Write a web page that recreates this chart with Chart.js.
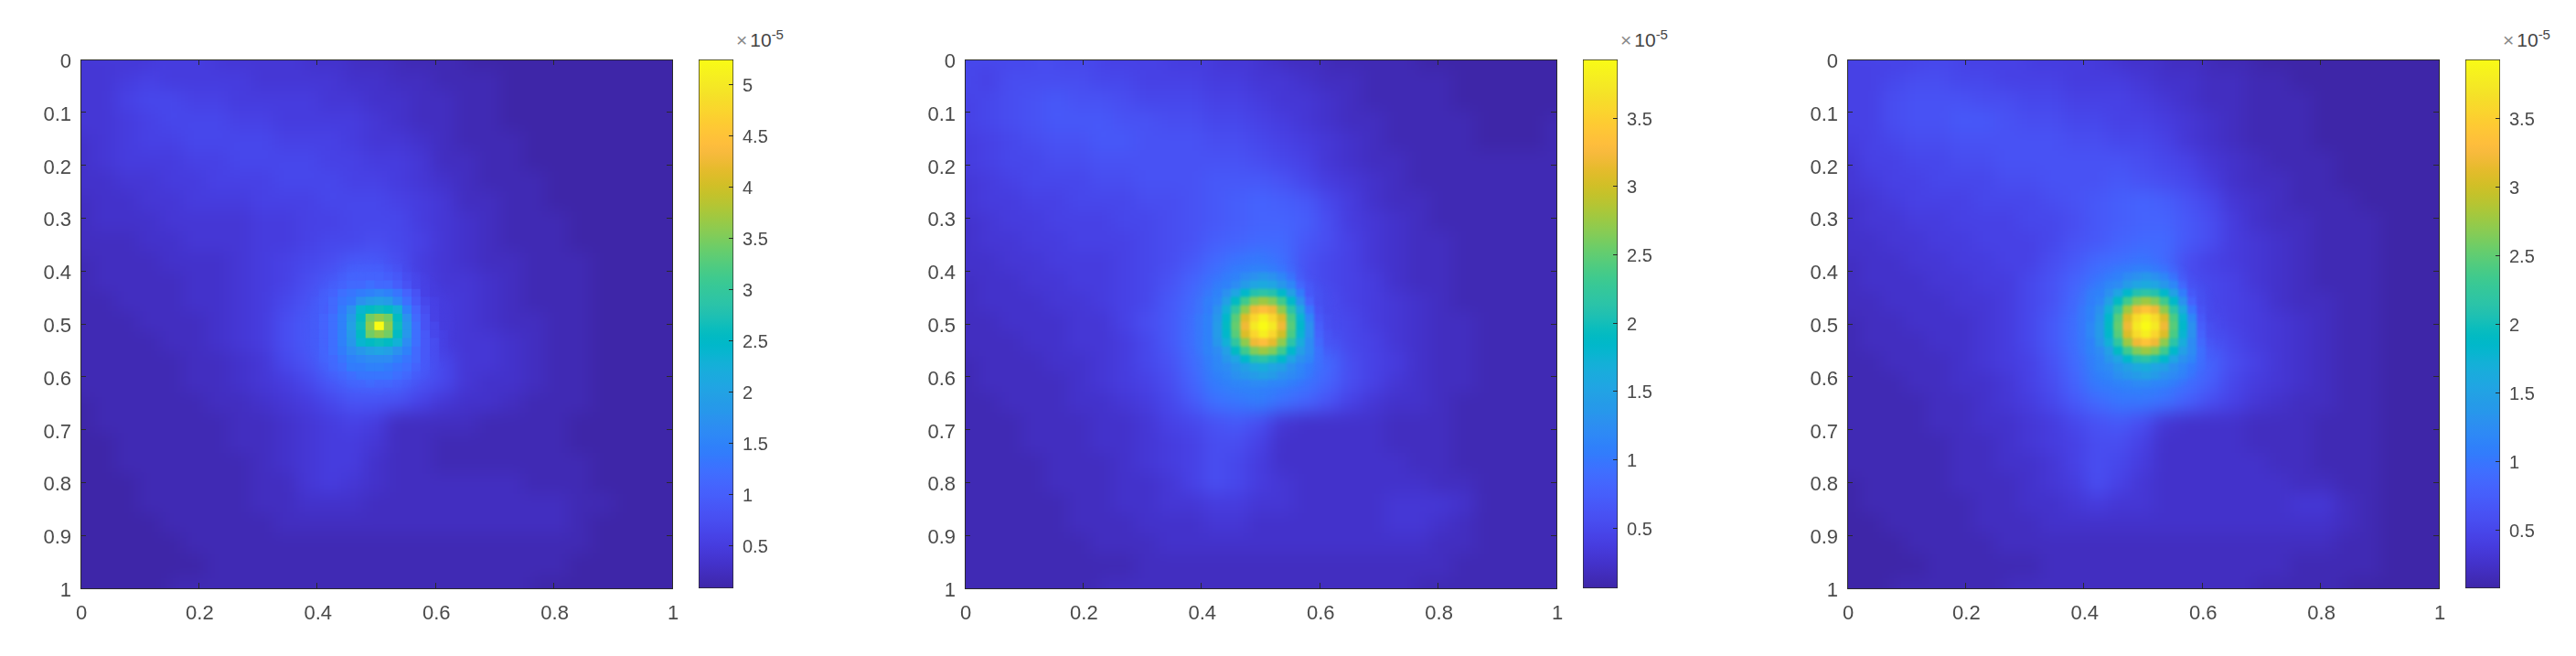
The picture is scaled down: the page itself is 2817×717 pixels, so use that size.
<!DOCTYPE html>
<html>
<head>
<meta charset="utf-8">
<title>Heat maps</title>
<script src="https://cdn.jsdelivr.net/npm/chart.js@4/dist/chart.umd.min.js"></script>
<style>
html, body { margin: 0; background: #fff; width: 2817px; height: 717px; overflow: hidden; }
canvas { position: absolute; }
.plot { position: absolute; overflow: hidden; }
.exp { position: absolute; font-family: "Liberation Sans", Arial, sans-serif; font-size: 21px; color: #444; white-space: nowrap; }
.exp i { font-style: normal; color: #888; font-size: 21px; margin-right: 3px; }
.exp sup { font-size: 15px; line-height: 0; position: relative; top: -1px; vertical-align: 7px; }
</style>
</head>
<body>
<script>
// tick values
const xTickValues = [0, 0.2, 0.4, 0.6, 0.8, 1];
const yTickValues = [0, 0.1, 0.2, 0.3, 0.4, 0.5, 0.6, 0.7, 0.8, 0.9, 1];
const barTicks1 = [0.5, 1, 1.5, 2, 2.5, 3, 3.5, 4, 4.5, 5];
const barTicks2 = [0.5, 1, 1.5, 2, 2.5, 3, 3.5];
const barRange1 = [0.08, 5.25];
const barRange2 = [0.06, 3.93];
const barRange3 = [0.08, 3.93];
const exponentLabel = '10';
const exponentPower = '-5';

// grid centres, coarse field and fine block round the peak
const backCentres = [0.02,0.06,0.10,0.14,0.18,0.22,0.26,0.30,0.34,0.38,0.42,0.46,0.50,0.54,0.58,0.62,0.66,0.70,0.74,0.78,0.82,0.86,0.90,0.94,0.98];
const coreCentres = [0.380,0.396,0.411,0.427,0.443,0.458,0.474,0.490,0.505,0.521,0.536,0.552,0.568,0.583,0.599,0.615,0.630];

// values, in units of 1e-7
const back1 = [
[42,54,58,56,54,52,50,48,46,44,41,38,35,31,27,23,20,17,15,14,13,13,13,13,13],
[48,58,66,66,64,60,56,54,52,50,47,44,40,36,30,26,22,18,16,15,14,13,13,13,13],
[48,56,64,70,70,68,63,59,56,54,52,49,44,38,32,27,22,18,16,15,14,14,13,13,13],
[46,52,58,64,67,70,68,65,62,59,57,54,48,42,35,29,23,19,17,15,14,14,13,13,13],
[44,49,53,56,60,63,65,67,67,66,64,61,55,49,41,32,25,21,18,16,15,14,13,13,14],
[40,44,48,51,55,58,60,63,66,67,66,64,60,54,45,36,28,23,20,17,15,14,14,14,14],
[37,40,44,47,49,52,55,58,61,64,66,68,67,61,52,41,32,26,22,18,16,15,15,14,14],
[34,37,39,42,44,46,48,51,54,58,63,67,70,66,56,45,35,28,23,19,17,16,15,14,14],
[30,32,35,38,41,43,46,49,52,58,66,72,76,72,60,48,38,30,24,20,18,16,15,15,14],
[27,29,32,34,37,40,44,50,58,68,80,90,95,80,55,47,40,32,26,21,18,17,16,15,14],
[25,27,30,32,35,39,44,52,64,78,95,115,120,90,58,48,42,34,28,22,19,17,15,14,14],
[23,25,27,30,33,37,44,54,70,85,120,170,200,140,64,50,44,37,30,24,20,18,16,14,14],
[22,24,26,28,31,36,44,56,76,90,140,260,500,260,70,52,46,40,32,26,22,18,16,14,14],
[20,22,24,26,29,34,42,54,76,90,130,200,250,190,90,56,48,42,34,27,22,18,16,14,13],
[19,20,22,24,27,31,38,48,66,85,115,130,135,130,100,70,48,44,36,28,22,19,16,14,13],
[18,19,20,22,25,29,34,42,54,72,92,105,110,105,85,66,44,40,34,28,22,18,16,14,13],
[17,18,19,21,23,25,28,33,42,56,72,82,84,76,62,48,38,33,28,24,20,17,15,14,13],
[17,18,19,20,22,24,26,31,38,46,56,60,54,30,27,26,25,24,23,21,18,16,15,14,13],
[16,17,18,20,21,23,25,29,36,44,54,54,44,27,25,24,24,23,22,20,18,16,15,14,13],
[16,17,18,19,21,22,24,28,34,44,54,50,38,27,25,24,24,24,23,21,19,17,15,14,13],
[15,16,17,19,20,22,24,27,32,42,52,46,36,28,26,25,25,25,25,24,22,18,15,14,13],
[15,16,17,18,20,21,23,25,29,34,38,36,31,28,27,26,26,27,28,30,30,24,17,14,13],
[14,15,16,18,19,20,22,24,26,27,28,28,27,26,26,26,26,27,28,28,26,22,16,14,13],
[14,14,15,16,18,19,20,22,23,24,24,24,24,24,24,24,24,24,24,23,21,18,15,14,13],
[14,14,14,15,16,17,18,19,20,20,21,21,21,21,21,21,20,20,20,19,18,16,14,13,13]
];
const backLower = [
[45,55,60,58,55,52,50,48,46,44,42,40,36,32,28,24,21,18,15,14,13,12,12,12,12],
[50,60,66,68,66,62,58,54,52,50,48,45,40,36,31,26,22,18,16,15,13,12,12,12,12],
[50,58,64,68,70,70,66,62,58,56,54,50,46,40,34,28,23,19,17,15,14,13,12,12,12],
[48,54,58,62,66,68,68,66,64,62,60,56,52,46,38,31,25,20,18,16,14,13,12,12,12],
[46,50,54,56,60,62,64,66,66,66,66,64,60,54,46,36,28,22,19,17,15,13,13,13,13],
[42,46,50,52,54,56,58,62,64,66,68,70,68,62,54,42,32,25,21,18,16,14,13,13,13],
[38,42,45,48,50,52,54,56,60,65,72,78,82,78,68,52,38,29,24,19,17,15,14,13,13],
[35,38,40,44,46,48,49,52,56,62,70,78,84,84,74,58,42,32,26,21,18,16,15,14,13],
[32,34,37,40,43,45,47,50,56,64,74,84,90,88,72,58,43,33,27,22,19,17,15,14,13],
[29,31,34,37,40,42,45,50,58,72,88,98,104,92,62,50,44,35,28,23,19,17,16,14,13],
[27,29,31,34,37,40,44,52,64,82,100,120,130,110,62,52,46,38,30,24,20,18,16,14,13],
[25,27,29,31,34,38,44,54,68,90,130,200,260,200,100,56,48,40,32,26,21,18,16,14,13],
[23,25,27,29,32,36,44,56,72,95,150,280,390,280,130,60,50,42,34,27,22,19,16,14,13],
[22,24,26,28,31,35,42,54,72,95,140,240,330,240,130,70,52,44,36,28,22,19,16,14,13],
[20,22,24,26,29,33,40,50,66,90,120,140,150,140,110,85,58,46,38,28,23,19,16,14,13],
[19,20,22,24,27,31,37,46,58,82,105,116,120,114,98,80,56,44,36,28,23,19,16,14,13],
[18,19,20,22,25,29,33,40,52,72,92,102,104,96,80,62,46,36,30,25,21,18,15,14,13],
[17,18,19,21,24,27,30,35,44,52,64,70,60,34,30,29,28,26,24,22,19,17,15,14,13],
[17,18,19,20,23,25,28,33,40,48,58,60,46,30,28,27,27,26,24,22,19,17,15,14,13],
[16,17,18,20,22,24,27,31,38,46,58,54,40,30,28,27,27,27,25,23,20,17,15,14,13],
[16,17,18,19,21,23,26,30,36,44,60,50,38,31,29,28,28,28,27,26,24,19,15,14,13],
[15,16,17,18,20,22,25,28,32,36,40,38,34,31,30,29,29,30,32,34,34,26,18,14,13],
[14,15,16,18,19,21,23,26,28,30,31,31,30,29,29,29,29,30,31,31,29,24,17,14,13],
[14,14,15,16,18,19,21,23,25,26,26,26,26,26,26,26,26,26,26,25,23,19,15,14,13],
[13,14,14,15,16,17,18,20,21,21,22,22,22,22,22,22,22,22,21,20,19,17,15,13,13]
];
const core1 = [
[70,74,78,82,86,90,92,92,90,86,78,68,60,54,50,47,45],
[72,78,83,88,92,97,100,100,98,92,82,70,62,56,51,48,46],
[74,82,90,96,102,106,110,112,108,102,92,78,65,57,52,49,47],
[76,84,94,102,110,116,120,122,120,114,102,86,70,59,54,50,48],
[78,88,98,110,122,132,142,152,156,150,136,112,84,64,55,51,48],
[80,90,101,114,130,145,170,190,195,186,160,126,94,68,57,52,49],
[82,92,104,118,138,170,235,255,260,255,230,150,106,74,60,53,50],
[84,94,106,122,146,190,255,340,360,340,255,175,118,82,63,55,51],
[85,95,107,124,150,195,260,360,525,360,260,180,124,88,66,56,52],
[85,95,108,125,150,190,255,340,360,340,255,178,126,92,70,58,53],
[84,95,108,124,146,178,235,255,260,255,230,165,124,94,74,60,54],
[83,94,107,122,140,162,182,198,204,196,176,148,120,96,76,62,55],
[81,92,105,120,134,148,158,165,168,162,150,132,114,96,78,64,56],
[78,90,102,116,128,138,144,148,148,144,136,122,108,94,78,65,57],
[75,87,99,110,120,128,132,134,134,130,124,114,102,90,76,65,57],
[72,83,94,104,112,118,120,122,120,118,112,104,94,84,72,63,56],
[68,78,88,96,102,106,108,108,106,104,98,92,84,76,66,60,54]
];
const core2 = [
[68,74,80,86,92,96,100,102,102,100,94,84,72,62,54,50,46],
[70,78,86,92,98,104,108,110,110,106,100,88,74,63,55,50,47],
[73,82,92,100,106,114,122,130,134,128,118,98,78,65,56,51,48],
[76,86,96,106,114,124,140,154,162,154,138,118,86,67,57,52,48],
[78,90,102,112,130,154,182,206,214,206,182,150,104,72,58,52,49],
[80,93,104,120,150,188,232,262,274,262,232,186,132,82,60,53,50],
[83,95,108,130,170,218,272,316,332,316,270,214,160,100,64,54,50],
[85,98,112,138,184,242,306,356,376,356,304,238,178,118,70,56,51],
[86,99,114,142,190,250,318,370,392,370,316,244,184,128,78,58,52],
[86,99,114,140,184,242,306,356,376,354,302,236,178,130,84,62,54],
[85,98,112,134,170,218,272,316,332,314,268,212,166,126,90,66,55],
[84,97,110,126,150,188,232,262,274,262,230,186,148,122,94,70,57],
[82,95,108,120,134,156,184,206,214,204,182,154,130,116,96,74,58],
[80,92,105,116,124,136,148,158,164,156,146,132,120,108,94,76,60],
[76,88,102,112,120,128,134,142,146,140,132,124,116,104,90,74,60],
[72,84,97,106,112,116,120,122,122,120,116,110,104,94,82,70,58],
[67,78,90,98,104,108,110,110,108,106,102,96,90,82,72,64,55]
];
const core3 = [
[72,78,84,90,95,99,102,104,104,102,96,86,74,63,55,50,46],
[74,82,90,96,102,107,110,112,112,108,102,90,76,64,56,50,47],
[77,86,96,104,110,116,124,132,136,130,120,100,80,66,57,51,48],
[80,90,100,110,118,126,142,156,164,156,140,120,88,68,58,52,48],
[82,94,106,116,132,156,184,208,216,208,184,152,106,74,59,52,49],
[84,97,108,122,152,190,234,264,276,264,234,188,134,84,61,53,50],
[86,99,112,132,172,220,274,318,334,318,272,216,162,102,65,54,50],
[88,102,116,140,186,244,308,358,378,358,306,240,180,120,71,56,51],
[89,103,118,144,192,252,320,372,392,372,318,246,186,130,80,58,52],
[89,103,118,142,186,244,308,358,378,356,304,238,180,132,86,62,54],
[88,102,116,136,172,220,274,318,334,316,270,214,168,128,92,66,55],
[86,100,113,128,152,190,234,264,276,264,232,188,150,124,96,70,57],
[84,97,110,122,136,158,186,208,216,206,184,156,132,118,98,74,58],
[82,94,107,118,126,138,150,160,166,158,148,134,122,110,96,76,60],
[78,90,104,114,122,130,136,144,148,142,134,126,118,106,92,74,60],
[74,86,99,108,114,118,122,124,124,122,118,112,106,96,84,70,58],
[68,80,92,100,106,110,112,112,110,108,104,98,92,84,74,64,55]
];

// parula, 64 levels
const palette = [
[.2422,.1504,.6603],[.2504,.1650,.7076],[.2578,.1818,.7511],[.2647,.1978,.7952],[.2706,.2147,.8364],[.2751,.2342,.8710],[.2783,.2559,.8991],[.2803,.2782,.9221],
[.2813,.3006,.9414],[.2810,.3228,.9579],[.2795,.3447,.9717],[.2760,.3667,.9829],[.2699,.3892,.9906],[.2602,.4123,.9952],[.2440,.4358,.9988],[.2206,.4603,.9973],
[.1963,.4847,.9892],[.1834,.5074,.9798],[.1786,.5289,.9682],[.1764,.5499,.9520],[.1687,.5703,.9359],[.1540,.5902,.9218],[.1460,.6091,.9079],[.1380,.6276,.8973],
[.1248,.6459,.8883],[.1113,.6635,.8763],[.0952,.6798,.8598],[.0689,.6948,.8394],[.0297,.7082,.8163],[.0036,.7203,.7917],[.0067,.7312,.7660],[.0433,.7411,.7394],
[.0964,.7500,.7120],[.1408,.7584,.6842],[.1717,.7670,.6554],[.1938,.7758,.6251],[.2161,.7843,.5923],[.2470,.7918,.5567],[.2906,.7973,.5188],[.3406,.8008,.4789],
[.3909,.8029,.4354],[.4456,.8024,.3909],[.5044,.7993,.3480],[.5616,.7942,.3045],[.6174,.7876,.2612],[.6720,.7793,.2227],[.7242,.7698,.1910],[.7738,.7598,.1646],
[.8203,.7498,.1535],[.8634,.7406,.1596],[.9035,.7330,.1774],[.9393,.7288,.2100],[.9728,.7298,.2394],[.9956,.7434,.2371],[.9970,.7659,.2199],[.9952,.7893,.2028],
[.9892,.8136,.1885],[.9786,.8386,.1766],[.9676,.8639,.1643],[.9610,.8890,.1537],[.9597,.9135,.1423],[.9628,.9373,.1265],[.9691,.9606,.1064],[.9769,.9839,.0805]
].map(c => `rgb(${c.map(n => Math.round(n * 255)).join(',')})`);

const plotTop = 65, plotH = 578, plotW = 647, barW = 38;
const margin = 60;
const panels = [
    { left: 88, barLeft: 764, back: back1, core: core1, range: barRange1, ticks: barTicks1, coreBlur: 0.7 },
    { left: 1055, barLeft: 1731, back: backLower, core: core2, range: barRange2, ticks: barTicks2, coreBlur: 1.4 },
    { left: 2020, barLeft: 2696, back: backLower, core: core3, range: barRange3, ticks: barTicks2, coreBlur: 1.4 }
];
const tickFont = { family: '"Liberation Sans", Arial, sans-serif', size: 22 };
const barFont = { family: '"Liberation Sans", Arial, sans-serif', size: 20 };
const inkColor = '#2a2a2a', textColor = '#4a4a4a';

function addCanvas(parent, left, top, w, h) {
    const c = document.createElement('canvas');
    c.width = w; c.height = h;
    c.style.left = left + 'px'; c.style.top = top + 'px';
    parent.appendChild(c);
    return c;
}

function cellsOf(matrix, centres, keep) {
    const cells = [];
    matrix.forEach((row, j) => row.forEach((v, i) => {
        if (!keep || keep(i, j, row.length)) cells.push({ x: centres[i], y: centres[j], v: v / 100 });
    }));
    return cells;
}

function colorOf(v, range) {
    const f = (v - range[0]) / (range[1] - range[0]);
    return palette[Math.max(0, Math.min(63, Math.floor(f * 64)))];
}

// label padding would push the plot area off the measured rectangle
function fixed(size, key) {
    return s => {
        s[key] = size;
        s.paddingTop = s.paddingBottom = s.paddingLeft = s.paddingRight = 0;
    };
}

function setTicks(values) {
    return s => { s.ticks = values.map(value => ({ value })); };
}

function axis(position, values, size, showLabels, padding, labelOffset) {
    const horizontal = position === 'top' || position === 'bottom';
    return {
        axis: horizontal ? 'x' : 'y',
        type: 'linear',
        position,
        min: 0,
        max: 1,
        reverse: !horizontal,
        afterBuildTicks: setTicks(values),
        afterFit: fixed(size, horizontal ? 'height' : 'width'),
        border: { display: true, color: inkColor, width: 1, z: 1 },
        grid: { drawOnChartArea: false, drawTicks: true, tickLength: -6, tickColor: inkColor, z: 1 },
        ticks: { display: showLabels, font: tickFont, color: textColor, padding, labelOffset, maxRotation: 0, autoSkip: false, callback: v => String(v) }
    };
}

function heatDataset(cells, range, step, grow) {
    return {
        data: cells,
        pointStyle: 'rect',
        pointRadius: plotW * step / 2 * Math.SQRT2 * grow + 0.4,
        pointBorderWidth: 0,
        backgroundColor: c => colorOf(c.raw.v, range),
        clip: false
    };
}

// one chart holding only cells, sits under the axes chart
function heatChart(parent, datasets) {
    return new Chart(addCanvas(parent, -margin, -margin, plotW + margin * 2, plotH + margin * 2), {
        type: 'scatter',
        data: { datasets },
        options: {
            responsive: false,
            animation: false,
            events: [],
            layout: { padding: margin },
            plugins: { legend: { display: false }, tooltip: { enabled: false } },
            scales: {
                x: { type: 'linear', display: false, min: 0, max: 1 },
                y: { type: 'linear', display: false, min: 0, max: 1, reverse: true }
            }
        }
    });
}

panels.forEach(p => {
    const holder = document.createElement('div');
    holder.className = 'plot';
    holder.style.cssText = `left:${p.left}px;top:${plotTop}px;width:${plotW}px;height:${plotH}px`;
    document.body.appendChild(holder);

    // edge cells drawn large underneath so the soft edge stays filled
    const edge = (i, j, n) => i === 0 || j === 0 || i === n - 1 || j === n - 1;
    const backChart = heatChart(holder, [
        heatDataset(cellsOf(p.back, backCentres), p.range, 0.04, 1),
        heatDataset(cellsOf(p.back, backCentres, edge), p.range, 0.04, 4)
    ]);
    backChart.canvas.style.filter = 'blur(9px)';

    const coreChart = heatChart(holder, [heatDataset(cellsOf(p.core, coreCentres), p.range, 0.0156, 1)]);
    const cx = 0.505 * plotW, cy = 0.505 * plotH;
    coreChart.canvas.style.filter = `blur(${p.coreBlur}px)`;
    coreChart.canvas.style.webkitMaskImage = coreChart.canvas.style.maskImage =
        `radial-gradient(ellipse 86px 77px at ${cx + margin}px ${cy + margin}px, #000 72%, transparent 100%)`;

    new Chart(addCanvas(document.body, p.left - 60, plotTop - 20, plotW + 80, plotH + 65), {
        type: 'scatter',
        data: { datasets: [] },
        options: {
            responsive: false,
            animation: false,
            events: [],
            layout: { padding: { left: 0, right: 20, top: 20, bottom: 0 } },
            plugins: { legend: { display: false }, tooltip: { enabled: false } },
            scales: {
                x: axis('bottom', xTickValues, 45, true, 21, 1),
                y: axis('left', yTickValues, 60, true, 16, 3),
                xTop: axis('top', xTickValues, 0, false, 0, 0),
                yRight: axis('right', yTickValues, 0, false, 0, 0)
            }
        }
    });

    // colour bar
    new Chart(addCanvas(document.body, p.barLeft - 2, plotTop - 2, barW + 60, plotH + 4), {
        type: 'bar',
        data: {
            labels: [''],
            datasets: [{
                data: [[p.range[0], p.range[1]]],
                barPercentage: 1,
                categoryPercentage: 1,
                borderWidth: 1,
                borderColor: inkColor,
                borderSkipped: false,
                backgroundColor: c => {
                    const area = c.chart.chartArea;
                    if (!area) return palette[0];
                    const g = c.chart.ctx.createLinearGradient(0, area.bottom, 0, area.top);
                    palette.forEach((col, i) => g.addColorStop(i / 63, col));
                    return g;
                }
            }]
        },
        options: {
            responsive: false,
            animation: false,
            events: [],
            layout: { padding: { left: 2, right: 0, top: 2, bottom: 2 } },
            plugins: { legend: { display: false }, tooltip: { enabled: false } },
            scales: {
                x: { display: false },
                y: {
                    position: 'right',
                    min: p.range[0],
                    max: p.range[1],
                    afterBuildTicks: setTicks(p.ticks),
                    afterFit: fixed(58, 'width'),
                    border: { display: false },
                    grid: { drawOnChartArea: false, drawTicks: true, tickLength: -5, tickColor: inkColor, z: 1 },
                    ticks: { font: barFont, color: textColor, padding: 15, labelOffset: 2, autoSkip: false, callback: v => String(v) }
                }
            }
        }
    });

    const label = document.createElement('div');
    label.className = 'exp';
    label.style.left = (p.barLeft + 41) + 'px';
    label.style.top = '32px';
    label.innerHTML = `<i>×</i>${exponentLabel}<sup>${exponentPower}</sup>`;
    document.body.appendChild(label);
});
</script>
</body>
</html>
